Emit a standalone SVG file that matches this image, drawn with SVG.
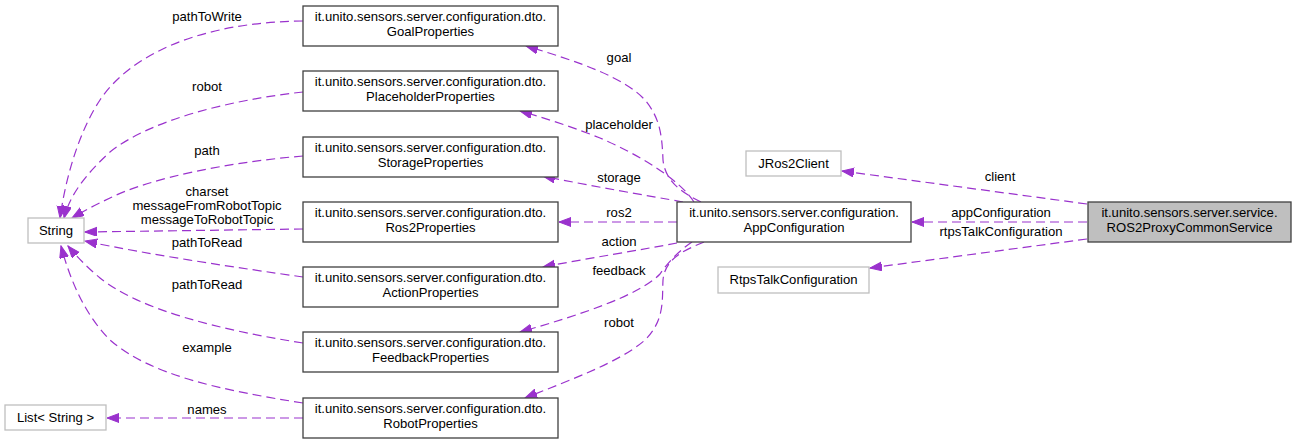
<svg xmlns="http://www.w3.org/2000/svg" width="1296" height="444" viewBox="0 0 1296 444">
<style>
text{font-family:"Liberation Sans",Arial,sans-serif;font-size:13.1px;fill:#000;text-anchor:middle}
.n{fill:#fff;stroke:#404040;stroke-width:1.3}
.u{fill:#fff;stroke:#bfbfbf;stroke-width:1.3}
.m{fill:#bfbfbf;stroke:#404040;stroke-width:1.3}
.e{fill:none;stroke:#9a32cd;stroke-width:1.2;stroke-dasharray:9,5;marker-end:url(#a)}
</style>
<defs>
<marker id="a" markerUnits="userSpaceOnUse" markerWidth="13" markerHeight="11" refX="12" refY="4.5" orient="auto">
<path d="M0,0 L12,4.5 L0,9 z" fill="#9a32cd" stroke="#9a32cd" stroke-width="1"/>
</marker>
</defs>
<rect width="1296" height="444" fill="#fff"/>
<g id="connectors">
<path class="e" d="M1087,204 L842,171"/>
<path class="e" d="M1087,222 L912,222"/>
<path class="e" d="M1087,239 L870,268"/>
<path class="e" d="M701,202 C680,192 665,180 663,160 C662,135 660,118 645,100 C625,78 580,62 526,46"/>
<path class="e" d="M694,202 C680,180 640,155 600,138 C575,128 545,118 520,111"/>
<path class="e" d="M683,202 C650,196 590,186 543,176"/>
<path class="e" d="M677,222 L559,222"/>
<path class="e" d="M677,243 C640,250 590,258 543,267"/>
<path class="e" d="M692,242 C680,250 668,262 660,274 C640,295 580,315 520,332"/>
<path class="e" d="M704,242 C685,250 665,258 663,280 C662,300 665,320 645,340 C620,362 570,380 525,398"/>
<path class="e" d="M303,21 C200,22 130,55 100,100 C80,130 66,175 60,218"/>
<path class="e" d="M303,92 C230,100 150,120 110,152 C85,175 70,195 64,218"/>
<path class="e" d="M303,156 C230,162 150,178 110,198 C95,205 82,212 72,218"/>
<path class="e" d="M303,229 L85,232"/>
<path class="e" d="M303,277 C240,268 150,255 85,241"/>
<path class="e" d="M303,343 C220,330 140,310 100,278 C88,268 78,258 68,246"/>
<path class="e" d="M303,403 C220,390 150,375 110,340 C85,315 70,280 61,246"/>
<path class="e" d="M303,418 L107,418"/>
</g>
<g id="labels">
<text x="1000" y="181">client</text>
<text x="1001" y="217">appConfiguration</text>
<text x="1001" y="236">rtpsTalkConfiguration</text>
<text x="619" y="62">goal</text>
<text x="619" y="129">placeholder</text>
<text x="619" y="182">storage</text>
<text x="619" y="217">ros2</text>
<text x="619" y="246">action</text>
<text x="619" y="275">feedback</text>
<text x="619" y="327">robot</text>
<text x="207" y="21">pathToWrite</text>
<text x="207" y="91">robot</text>
<text x="207" y="155">path</text>
<text x="207" y="196">charset</text>
<text x="207" y="210">messageFromRobotTopic</text>
<text x="207" y="224">messageToRobotTopic</text>
<text x="207" y="247">pathToRead</text>
<text x="207" y="289">pathToRead</text>
<text x="207" y="352">example</text>
<text x="207" y="414">names</text>
</g>
<g id="ROS2ProxyCommonService">
<rect class="m" x="1088" y="202" width="203" height="40"/>
<text x="1189.5" y="217">it.unito.sensors.server.service.</text>
<text x="1189.5" y="232">ROS2ProxyCommonService</text>
</g>
<g id="JRos2Client">
<rect class="u" x="746" y="151" width="95" height="25"/>
<text x="793.5" y="168">JRos2Client</text>
</g>
<g id="AppConfiguration">
<rect class="n" x="677" y="202" width="234" height="40"/>
<text x="794" y="217">it.unito.sensors.server.configuration.</text>
<text x="794" y="232">AppConfiguration</text>
</g>
<g id="RtpsTalkConfiguration">
<rect class="u" x="718" y="267" width="151" height="26"/>
<text x="793.5" y="284">RtpsTalkConfiguration</text>
</g>
<g id="GoalProperties">
<rect class="n" x="303" y="6" width="255" height="40"/>
<text x="430.5" y="21">it.unito.sensors.server.configuration.dto.</text>
<text x="430.5" y="36">GoalProperties</text>
</g>
<g id="PlaceholderProperties">
<rect class="n" x="303" y="71" width="255" height="40"/>
<text x="430.5" y="86">it.unito.sensors.server.configuration.dto.</text>
<text x="430.5" y="101">PlaceholderProperties</text>
</g>
<g id="StorageProperties">
<rect class="n" x="303" y="137" width="255" height="40"/>
<text x="430.5" y="152">it.unito.sensors.server.configuration.dto.</text>
<text x="430.5" y="167">StorageProperties</text>
</g>
<g id="Ros2Properties">
<rect class="n" x="303" y="202" width="255" height="40"/>
<text x="430.5" y="217">it.unito.sensors.server.configuration.dto.</text>
<text x="430.5" y="232">Ros2Properties</text>
</g>
<g id="ActionProperties">
<rect class="n" x="303" y="267" width="255" height="40"/>
<text x="430.5" y="282">it.unito.sensors.server.configuration.dto.</text>
<text x="430.5" y="297">ActionProperties</text>
</g>
<g id="FeedbackProperties">
<rect class="n" x="303" y="332" width="255" height="40"/>
<text x="430.5" y="347">it.unito.sensors.server.configuration.dto.</text>
<text x="430.5" y="362">FeedbackProperties</text>
</g>
<g id="RobotProperties">
<rect class="n" x="303" y="398" width="255" height="40"/>
<text x="430.5" y="413">it.unito.sensors.server.configuration.dto.</text>
<text x="430.5" y="428">RobotProperties</text>
</g>
<g id="String">
<rect class="u" x="28" y="218" width="56" height="25"/>
<text x="56" y="235">String</text>
</g>
<g id="ListString">
<rect class="u" x="5" y="405" width="101" height="25"/>
<text x="55.5" y="422">List&lt; String &gt;</text>
</g>
</svg>
